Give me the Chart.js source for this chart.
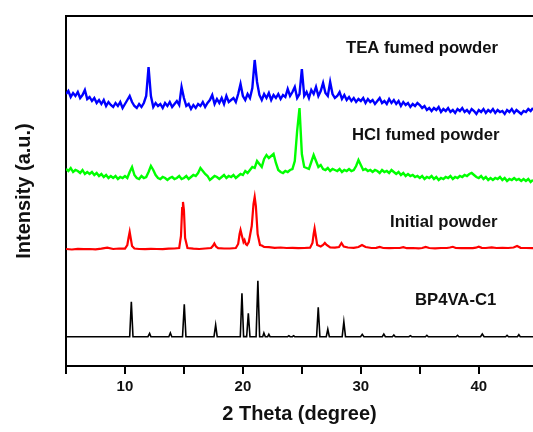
<!DOCTYPE html>
<html>
<head>
<meta charset="utf-8">
<script src="https://cdn.jsdelivr.net/npm/chart.js@4"></script>
<style>
html, body { margin: 0; padding: 0; background: #fff; }
#wrap { width: 533px; height: 432px; position: relative; }
</style>
</head>
<body>
<div id="wrap"><canvas id="xrdChart"></canvas></div>
<script>
// TEA fumed powder, sampled every 0.2 degree from 5.0
const teaY = [
272,275,269,273,270, 274,268,271,276,267, 269,265,268,263,266, 262,266,260,264,261,
259,263,260,264,258, 262,266,270,264,260, 258,262,259,263,270, 299,270,259,263,260,
262,258,263,260,264, 259,262,265,261,279, 268,260,262,257,261, 258,262,260,264,259,
263,266,271,262,267, 263,268,262,270,264, 266,268,264,272,282, 270,266,272,268,278,
306,284,271,266,272, 268,273,266,271,268, 272,267,271,269,277, 270,274,279,268,272,
297,270,274,268,276, 272,279,270,275,283, 273,270,284,272,268, 270,274,267,271,266,
269,265,268,264,267, 265,268,263,267,264, 266,262,265,268,263, 265,262,267,263,266,
262,265,260,264,261, 263,259,262,260,263, 261,258,260,256,258, 255,258,256,259,254,
257,255,258,254,256, 253,257,255,258,254, 256,253,257,255,252, 256,254,257,253,256,
254,257,253,256,254, 255,252,256,254,257, 253,256,254,252,255, 254,257,255,258
];

// HCl fumed powder, same 0.2 degree sampling
const hclY = [
197,195,198,194,196, 195,193,196,192,194, 192,194,191,193,190, 192,189,191,188,190,
188,190,187,189,188, 190,188,194,199,191, 188,187,190,188,189, 194,200,196,191,188,
187,189,188,186,188, 189,187,188,190,187, 188,190,187,189,191, 190,193,198,195,192,
190,186,188,190,189, 187,189,191,188,190, 189,191,188,190,192, 191,195,193,196,199,
198,205,202,199,207, 211,208,210,212,203, 196,194,193,195,194, 196,197,205,235,258,
212,199,198,197,204, 211,205,199,201,197, 196,198,195,197,196, 195,197,194,196,195,
197,195,196,200,206, 201,196,197,195,196, 194,196,195,193,196, 194,195,193,196,194,
192,194,191,193,190, 192,190,191,189,190, 188,190,187,189,188, 190,187,189,186,188,
187,189,188,190,187, 189,188,190,189,191, 190,192,193,191,189, 188,190,187,189,186,
188,186,188,187,189, 186,188,185,187,186, 188,186,187,185,187, 185,187,184,186
];

// Initial powder
const initX = [5,5.5,6,6.5,7,7.5,8,8.5,9,9.5,10.0,10.2,10.3,10.4,10.5,10.6,10.8,11.2,11.7,12.2,
12.7,13.2,13.7,14.2,14.6,14.75,14.85,14.92,15.0,15.1,15.3,15.8,16.3,16.8,17.3,17.45,17.58,17.72,17.9,18.4,
18.9,19.4,19.6,19.72,19.8,19.9,20.05,20.14,20.25,20.35,20.5,20.75,20.9,21.0,21.1,21.25,21.45,21.6,21.8,22.2,
22.7,23.2,23.7,24.2,24.7,25.2,25.7,25.9,26.0,26.08,26.17,26.3,26.6,26.8,26.95,27.1,27.4,27.8,28.15,28.36,
28.55,28.9,29.4,29.8,30.1,30.4,30.9,31.3,31.6,31.9,32.4,32.9,33.3,33.6,33.9,34.4,34.9,35.2,35.5,35.8,
36.3,36.8,37.3,37.55,37.8,38.05,38.5,39.0,39.5,39.75,40.0,40.25,40.6,41.1,41.5,42.0,42.5,42.95,43.25,43.55,
44.0,44.6];
const initY = [117,116.5,117.2,116.8,117,116.6,117.3,118.3,117,117.5,117.3,121,128,134,127,120,117.5,117,116.8,117.2,
117,116.8,117.3,117.5,118,130,158,164,156,128,118,117.3,117,117.5,118,120,122.5,119.5,117.8,117.5,
117.5,118,122,132,136,131,124,126,122,121,124,140,162,169,160,132,121,120.5,119,118.8,
118.2,118.5,118,118.2,117.8,118,118.3,123,132,137.5,131,121,119.5,121,123,121,118.5,118.3,119,123,
119.5,118.5,118.2,119,121,119,118,118.2,119,118,117.8,118,118,118.8,117.8,118,117.7,118,119,118,
117.7,118,118,118.5,119.2,118,117.8,118,117.8,118.3,119.3,118.2,118,118.7,118,118.2,118,118.5,120,118.2,
118,117.8];

// BP4VA-C1 (simulated)
const simX = [5,10.4,10.54,10.68,11.95,12.09,12.2,13.72,13.85,13.97,14.88,15.03,15.17,17.55,17.69,17.82,
19.78,19.92,20.06,20.2,20.32,20.46,20.6,21.12,21.27,21.42,21.68,21.78,21.9,22.1,22.2,22.3,
23.8,23.9,24.0,24.2,24.3,24.4,26.25,26.39,26.53,27.07,27.2,27.33,28.42,28.56,28.7,29.98,30.12,30.26,
31.82,31.95,32.08,32.68,32.8,32.92,34.08,34.2,34.32,35.48,35.6,35.72,38.08,38.2,38.32,40.15,40.3,40.45,
42.28,42.4,42.52,43.28,43.4,43.52,44.6];
const simY = [29.3,29.3,64.3,29.3,29.3,32.6,29.3,29.3,33,29.3,29.3,61.7,29.3,29.3,41,29.3,
29.3,72.7,29.3,29.5,29.3,52.7,29.3,29.3,85.3,29.3,29.3,33,29.3,29.3,31.7,29.3,
29.3,30.3,29.3,29.3,30.3,29.3,29.3,58.7,29.3,29.3,36.7,29.3,29.3,44.3,29.3,29.3,31.7,29.3,
29.3,32,29.3,29.3,31,29.3,29.3,30.3,29.3,29.3,30.7,29.3,29.3,30.7,29.3,29.3,32,29.3,
29.3,30.7,29.3,29.3,31.3,29.3,29.3];

const xTicks = [5, 10, 15, 20, 25, 30, 35, 40];
const curveLabels = ["TEA fumed powder", "HCl fumed powder", "Initial powder", "BP4VA-C1"];

const gridX = teaY.map((_, i) => +(5 + i * 0.2).toFixed(1));
const pairs = (xs, ys) => ys.map((y, i) => ({ x: xs[i], y: y }));

const frameAndLabels = {
  id: "frameAndLabels",
  afterDraw(chart) {
    const c = chart.ctx, a = chart.chartArea;
    c.save();
    c.strokeStyle = "#000";
    c.lineWidth = 2;
    c.beginPath();
    c.moveTo(a.left - 1, a.top);
    c.lineTo(a.right, a.top);
    c.stroke();
    c.fillStyle = "#111";
    c.font = "bold 16.7px Arial";
    c.textBaseline = "middle";
    c.fillText(curveLabels[0], 346, 48);
    c.fillText(curveLabels[1], 352, 135);
    c.fillText(curveLabels[2], 390, 222);
    c.fillText(curveLabels[3], 415, 300);
    c.restore();
  }
};

new Chart(document.getElementById("xrdChart").getContext("2d"), {
  type: "line",
  data: {
    datasets: [
      { label: curveLabels[0], data: pairs(gridX, teaY), borderColor: "#0000ff", borderWidth: 2.4 },
      { label: curveLabels[1], data: pairs(gridX, hclY), borderColor: "#00ff00", borderWidth: 2.4 },
      { label: curveLabels[2], data: pairs(initX, initY), borderColor: "#ff0000", borderWidth: 2.2 },
      { label: curveLabels[3], data: pairs(simX, simY), borderColor: "#000000", borderWidth: 1.6 }
    ]
  },
  options: {
    responsive: true,
    maintainAspectRatio: false,
    animation: false,
    elements: { point: { radius: 0 }, line: { tension: 0 } },
    layout: { padding: { left: 12, top: 16, right: 0, bottom: 6 } },
    plugins: { legend: { display: false }, tooltip: { enabled: false } },
    scales: {
      x: {
        type: "linear",
        min: 5,
        max: 44.6,
        afterBuildTicks: s => { s.ticks = xTicks.map(v => ({ value: v })); },
        afterFit: s => { s.height = 60; },
        ticks: {
          color: "#111",
          padding: 4,
          maxRotation: 0,
          autoSkip: false,
          font: { family: "Arial", size: 15, weight: "bold" },
          callback: v => (v % 10 === 0 ? v : "")
        },
        grid: { drawOnChartArea: false, drawTicks: true, tickLength: 8, color: "#000", lineWidth: 2 },
        border: { display: true, color: "#000", width: 2 },
        title: {
          display: true,
          text: "2 Theta (degree)",
          color: "#111",
          padding: 0,
          font: { family: "Arial", size: 20, weight: "bold" }
        }
      },
      y: {
        min: 0,
        max: 350,
        afterFit: s => { s.width = 54; },
        ticks: { display: false },
        grid: { display: false },
        border: { display: true, color: "#000", width: 2 },
        title: {
          display: true,
          text: "Intensity (a.u.)",
          color: "#111",
          padding: 0,
          font: { family: "Arial", size: 20, weight: "bold" }
        }
      }
    }
  },
  plugins: [frameAndLabels]
});
</script>
</body>
</html>
